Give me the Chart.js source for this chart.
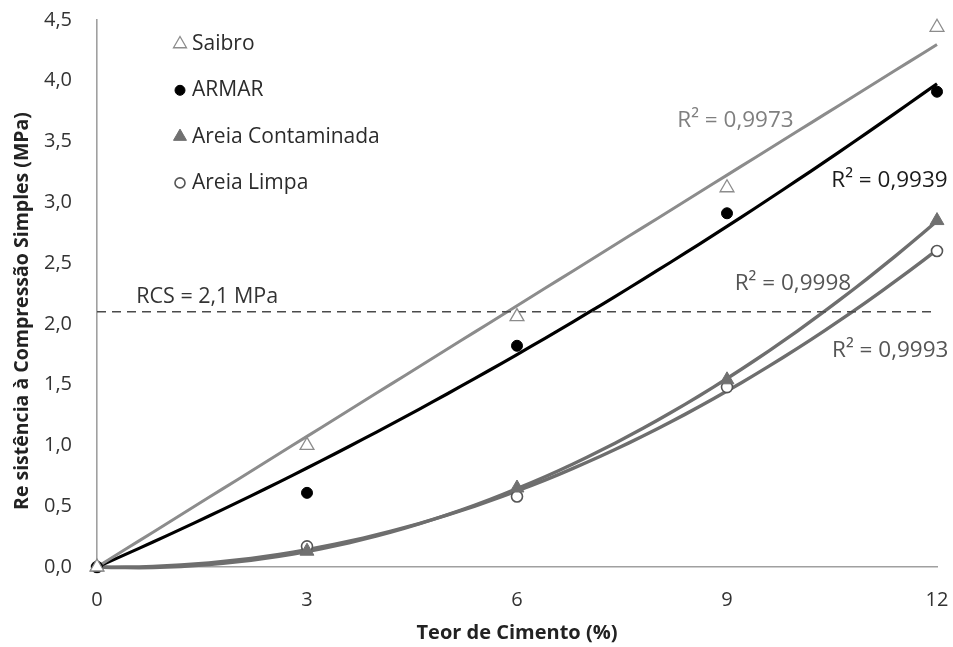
<!DOCTYPE html>
<html>
<head>
<meta charset="utf-8">
<script src="https://cdn.jsdelivr.net/npm/chart.js@4/dist/chart.umd.min.js"></script>
<style>
  html, body { margin: 0; padding: 0; background: #ffffff; }
  canvas { display: block; }
</style>
</head>
<body>
<canvas id="rcs" width="953" height="647"></canvas>
<script>
// Cement content (%) and unconfined compressive strength (MPa) per soil
const cimento = [0, 3, 6, 9, 12];
const saibro = [0, 1.00, 2.06, 3.12, 4.44];
const armar = [0, 0.61, 1.82, 2.91, 3.91];
const areiaContaminada = [0, 0.13, 0.65, 1.54, 2.85];
const areiaLimpa = [0, 0.17, 0.58, 1.48, 2.60];

const seriesNames = ['Saibro', 'ARMAR', 'Areia Contaminada', 'Areia Limpa'];
const r2Texts = ['R² = 0,9973', 'R² = 0,9939', 'R² = 0,9998', 'R² = 0,9993'];
const rcsLimite = 2.1;
const rcsTexto = 'RCS = 2,1 MPa';
const xTicks = [0, 3, 6, 9, 12];
const yTitle = 'Re sistência à Compressão Simples (MPa)';
const xTitle = 'Teor de Cimento (%)';

const FONT = '"Open Sans", "Noto Sans", sans-serif';

// Least-squares trendline through the origin: basis [x] (linear) or [x, x²] (quadratic)
function fitThroughOrigin(xs, ys, degree) {
  if (degree === 1) {
    let sxy = 0, sxx = 0;
    xs.forEach((x, i) => { sxy += x * ys[i]; sxx += x * x; });
    return [sxy / sxx, 0];
  }
  let s2 = 0, s3 = 0, s4 = 0, sxy = 0, sx2y = 0;
  xs.forEach((x, i) => {
    s2 += x * x; s3 += x * x * x; s4 += x * x * x * x;
    sxy += x * ys[i]; sx2y += x * x * ys[i];
  });
  const det = s2 * s4 - s3 * s3;
  return [(sxy * s4 - s3 * sx2y) / det, (s2 * sx2y - s3 * sxy) / det];
}
function trendPoints(xs, ys, degree) {
  const [a, b] = fitThroughOrigin(xs, ys, degree);
  const pts = [];
  const xmax = xs[xs.length - 1];
  for (let i = 0; i <= 60; i++) {
    const x = xmax * i / 60;
    pts.push({ x, y: a * x + b * x * x });
  }
  return pts;
}
const pairs = (ys) => cimento.map((x, i) => ({ x, y: ys[i] }));

const styles = [
  { ys: saibro, degree: 1, line: '#8c8c8c', lineW: 3, point: 'triangle', r: 8, fill: '#ffffff', stroke: '#8c8c8c', bw: 1.3 },
  { ys: armar, degree: 2, line: '#000000', lineW: 3.2, point: 'circle', r: 5.5, fill: '#000000', stroke: '#000000', bw: 1 },
  { ys: areiaContaminada, degree: 2, line: '#6e6e6e', lineW: 3.4, point: 'triangle', r: 8, fill: '#707070', stroke: '#707070', bw: 1 },
  { ys: areiaLimpa, degree: 2, line: '#6e6e6e', lineW: 3.4, point: 'circle', r: 5.5, fill: '#ffffff', stroke: '#555555', bw: 1.6 }
];

const datasets = [];
styles.forEach((s, i) => {
  datasets.push({
    label: seriesNames[i] + ' (tendência)',
    data: trendPoints(cimento, s.ys, s.degree),
    showLine: true, pointRadius: 0, borderColor: s.line, borderWidth: s.lineW,
    fill: false, order: 2, clip: false
  });
});
styles.forEach((s, i) => {
  datasets.push({
    label: seriesNames[i],
    data: pairs(s.ys),
    showLine: false, pointStyle: s.point, pointRadius: s.r,
    pointBackgroundColor: s.fill, pointBorderColor: s.stroke, pointBorderWidth: s.bw,
    order: 0, clip: false
  });
});
datasets.push({
  label: 'RCS',
  data: [{ x: 0, y: rcsLimite }, { x: 12, y: rcsLimite }],
  showLine: true, pointRadius: 0, borderColor: '#4a4a4a', borderWidth: 1.4,
  borderDash: [9, 6], order: 1
});

// Text placed in data units: [text, x, y, colour]
const notas = [
  [r2Texts[0], 8.29, 3.67, '#7f7f7f'],
  [r2Texts[1], 10.49, 3.18, '#1a1a1a'],
  [r2Texts[2], 9.11, 2.33, '#555555'],
  [r2Texts[3], 10.5, 1.78, '#555555'],
  [rcsTexto, 0.56, 2.22, '#333333']
];

const overlay = {
  id: 'overlay',
  afterDatasetsDraw(chart) {
    const { ctx, chartArea, scales } = chart;
    ctx.save();
    ctx.font = '22.5px ' + FONT;
    ctx.textBaseline = 'middle';
    ctx.textAlign = 'left';
    notas.forEach(([t, x, y, c], i) => {
      ctx.fillStyle = c;
      if (i === 4) ctx.font = '21.5px ' + FONT;
      ctx.fillText(t, scales.x.getPixelForValue(x), scales.y.getPixelForValue(y));
    });
    // legend, top-left inside the plot
    ctx.font = '21px ' + FONT;
    styles.forEach((s, i) => {
      const mx = chartArea.left + 83;
      const my = chartArea.top + 24 + i * 46.3;
      ctx.fillStyle = s.fill;
      ctx.strokeStyle = s.stroke;
      ctx.lineWidth = s.bw;
      Chart.helpers.drawPoint(ctx, { pointStyle: s.point, radius: s.point === 'triangle' ? 7.5 : 5, rotation: 0, borderWidth: s.bw }, mx, my);
      ctx.fillStyle = '#2b2b2b';
      ctx.fillText(seriesNames[i], mx + 12, my);
    });
    // vertical axis title
    ctx.font = 'bold 19.5px ' + FONT;
    ctx.fillStyle = '#222222';
    ctx.textAlign = 'center';
    ctx.translate(22, 311);
    ctx.rotate(-Math.PI / 2);
    ctx.fillText(yTitle, 0, 0);
    ctx.restore();
  }
};

new Chart(document.getElementById('rcs'), {
  type: 'scatter',
  data: { datasets },
  plugins: [overlay],
  options: {
    responsive: false,
    devicePixelRatio: 1,
    animation: false,
    layout: { padding: { top: 20, right: 16, left: 0, bottom: 0 } },
    plugins: { legend: { display: false }, tooltip: { enabled: false } },
    scales: {
      x: {
        type: 'linear', min: 0, max: 12,
        afterBuildTicks: (sc) => { sc.ticks = xTicks.map(v => ({ value: v })); },
        afterFit: (sc) => { sc.height = 80; sc.paddingLeft = 0; sc.paddingRight = 0; },
        grid: { display: false, drawTicks: false },
        border: { display: true, color: '#a0a0a0', width: 1.6 },
        ticks: { padding: 21, color: '#333333', font: { family: FONT, size: 20 } },
        title: { display: true, text: xTitle, color: '#222222', padding: { top: 0, bottom: 2 },
          font: { family: FONT, size: 20, weight: 'bold' } }
      },
      y: {
        type: 'linear', min: 0, max: 4.5,
        ticks: { stepSize: 0.5, padding: 25, color: '#333333', font: { family: FONT, size: 20 },
          callback: (v) => v.toFixed(1).replace('.', ',') },
        afterFit: (sc) => { sc.width = 97; sc.paddingTop = 0; sc.paddingBottom = 0; },
        grid: { display: false, drawTicks: false },
        border: { display: true, color: '#a0a0a0', width: 1.6 },
        title: { display: false }
      }
    }
  }
});
</script>
</body>
</html>
